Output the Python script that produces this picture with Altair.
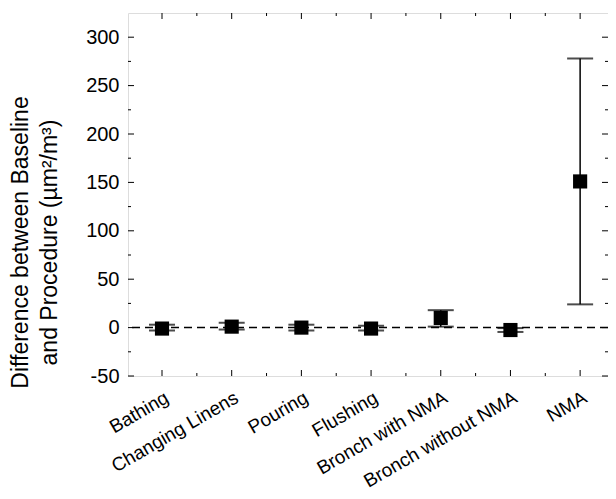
import json
import altair as alt
import pandas as pd

categories = ["Bathing", "Changing Linens", "Pouring", "Flushing",
              "Bronch with NMA", "Bronch without NMA", "NMA"]
means = [-1, 1, 0, -1, 10, -2.5, 151]
lows = [-3, -2, -3, -3, 1, -4.5, 24]
highs = [3, 5, 3, 2, 18, -0.5, 278]

y_major = [-50, 0, 50, 100, 150, 200, 250, 300]
y_minor = [-25, 25, 75, 125, 175, 225, 275]
x_major = [1, 2, 3, 4, 5, 6, 7]
x_minor = [1.5, 2.5, 3.5, 4.5, 5.5, 6.5]

W, H = 480, 363
FONT = "Liberation Sans"

df = pd.DataFrame({"idx": list(range(1, len(categories) + 1)),
                   "cat": categories, "mean": means, "lo": lows, "hi": highs})

xscale = alt.Scale(domain=[0.512, 7.40], nice=False, zero=False)
yscale = alt.Scale(domain=[-50, 325], nice=False, zero=False)

label_expr = json.dumps(categories) + "[datum.value - 1]"

base = alt.Chart(df)

points = base.mark_square(size=200, color="black", opacity=1).encode(
    x=alt.X("idx:Q", scale=xscale,
            axis=alt.Axis(values=x_major, labelExpr=label_expr, ticks=False,
                          domain=False, grid=False, labelAngle=-30,
                          labelAlign="right", labelBaseline="top",
                          labelOverlap=False, labelBound=False, labelFlush=False,
                          labelLimit=0,
                          labelPadding=12, labelFontSize=19, labelFont=FONT,
                          labelColor="black", title=None)),
    y=alt.Y("mean:Q", scale=yscale,
            axis=alt.Axis(values=y_major, ticks=False, domain=False, grid=False,
                          labelExpr="datum.value + ''",
                          labelPadding=9, labelFontSize=20, labelFont=FONT,
                          labelColor="black", labelOverlap=False,
                          title=["Difference between Baseline",
                                 "and Procedure (µm²/m³)"],
                          titleFont=FONT, titleFontSize=23, titleFontWeight="normal",
                          titleColor="black", titleAngle=270, titleAlign="center",
                          titleBaseline="alphabetic", titleLineHeight=29,
                          titleX=-101, titleY=229)),
)

bars = base.mark_rule(color="black", strokeWidth=1.5).encode(
    x=alt.X("idx:Q", scale=xscale), y=alt.Y("lo:Q", scale=yscale), y2="hi:Q")
cap_lo = base.mark_tick(color="black", orient="horizontal", size=26, thickness=2).encode(
    x=alt.X("idx:Q", scale=xscale), y=alt.Y("lo:Q", scale=yscale))
cap_hi = base.mark_tick(color="black", orient="horizontal", size=26, thickness=2).encode(
    x=alt.X("idx:Q", scale=xscale), y=alt.Y("hi:Q", scale=yscale))

zero = alt.Chart(pd.DataFrame({"z": [0]})).mark_rule(
    color="black", strokeDash=[8, 5], strokeWidth=1.5).encode(
    y=alt.Y("z:Q", scale=yscale))

ymaj = pd.DataFrame({"v": y_major})
ymin = pd.DataFrame({"v": y_minor})
xmaj = pd.DataFrame({"v": x_major})
xmin = pd.DataFrame({"v": x_minor})

def yticks(d, length):
    l = alt.Chart(d).mark_rule(color="black", strokeWidth=1).encode(
        y=alt.Y("v:Q", scale=yscale), x=alt.value(0), x2=alt.value(length))
    r = alt.Chart(d).mark_rule(color="black", strokeWidth=1).encode(
        y=alt.Y("v:Q", scale=yscale), x=alt.value(W - length), x2=alt.value(W))
    return l + r

def xticks(d, length):
    b = alt.Chart(d).mark_rule(color="black", strokeWidth=1).encode(
        x=alt.X("v:Q", scale=xscale), y=alt.value(H - length), y2=alt.value(H))
    t = alt.Chart(d).mark_rule(color="black", strokeWidth=1).encode(
        x=alt.X("v:Q", scale=xscale), y=alt.value(0), y2=alt.value(length))
    return b + t

chart = alt.layer(
    zero, bars, cap_lo, cap_hi, points,
    yticks(ymaj, 6), yticks(ymin, 3), xticks(xmaj, 6), xticks(xmin, 3),
).properties(
    width=W, height=H,
    autosize=alt.AutoSizeParams(type="none"),
    padding={"left": 120, "top": 5, "right": 0, "bottom": 115},
).configure_view(stroke="black", strokeWidth=1.2).configure(background="white")

chart.save("out.html", embed_options={"renderer": "svg", "actions": False})
